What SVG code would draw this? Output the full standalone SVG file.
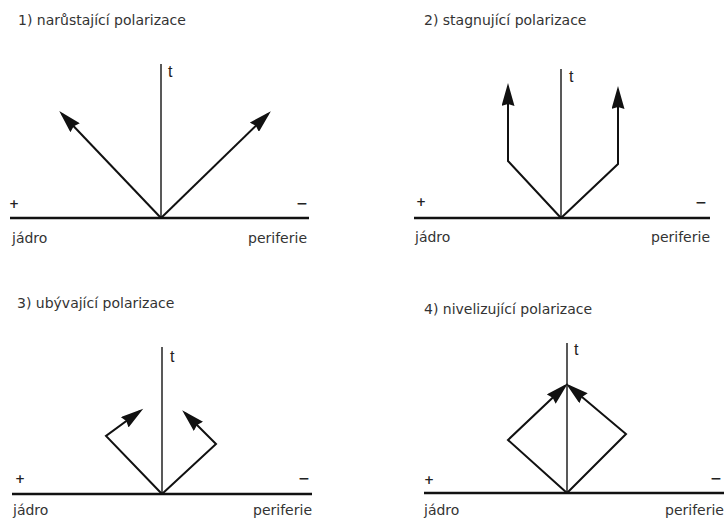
<svg xmlns="http://www.w3.org/2000/svg" width="724" height="519" viewBox="0 0 724 519">
<style>
.lbl{font-family:"DejaVu Sans",Verdana,sans-serif;font-size:14px;fill:#333}
.t{font-family:"Liberation Sans",Arial,sans-serif;font-size:16px;fill:#222}
.plus{font-family:"DejaVu Sans",sans-serif;font-size:12px;font-weight:bold;fill:#222;text-anchor:middle}
.sign{font-family:"DejaVu Sans",sans-serif;font-size:14px;font-weight:bold;fill:#222;text-anchor:middle}
.base{stroke:#111;stroke-width:2.5;fill:none}
.axis{stroke:#222;stroke-width:1.5;fill:none}
.arr{stroke:#111;stroke-width:2;fill:none;stroke-linejoin:miter;marker-end:url(#ah)}
</style>
<defs>
<marker id="ah" markerUnits="userSpaceOnUse" markerWidth="24" markerHeight="13" refX="19" refY="6.5" orient="auto">
<path d="M0,0 L23,6.5 L0,13 L2,6.5 z" fill="#111"/>
</marker>
</defs>
<rect width="724" height="519" fill="#fff"/>

<g id="panel1">
<text class="lbl" x="18" y="25">1) narůstající polarizace</text>
<line class="base" x1="10" y1="218" x2="309" y2="218"/>
<line class="axis" x1="161" y1="64" x2="161" y2="218"/>
<text class="t" x="168" y="77">t</text>
<text class="plus" x="14" y="208">+</text>
<text class="sign" x="302" y="208">−</text>
<text class="lbl" x="12" y="243">jádro</text>
<text class="lbl" x="307" y="243" text-anchor="end">periferie</text>
</g>

<g id="panel2">
<text class="lbl" x="424" y="25">2) stagnující polarizace</text>
<line class="base" x1="414" y1="218" x2="710" y2="218"/>
<line class="axis" x1="561" y1="69" x2="561" y2="218"/>
<text class="t" x="569" y="82">t</text>
<text class="plus" x="421" y="206">+</text>
<text class="sign" x="701" y="207">−</text>
<text class="lbl" x="415" y="242">jádro</text>
<text class="lbl" x="710" y="242" text-anchor="end">periferie</text>
</g>

<g id="panel3">
<text class="lbl" x="17" y="308">3) ubývající polarizace</text>
<line class="base" x1="12" y1="494" x2="312" y2="494"/>
<line class="axis" x1="162" y1="347" x2="162" y2="494"/>
<text class="t" x="170" y="362">t</text>
<text class="plus" x="20" y="483">+</text>
<text class="sign" x="304" y="483">−</text>
<text class="lbl" x="13" y="515">jádro</text>
<text class="lbl" x="312" y="515" text-anchor="end">periferie</text>
</g>

<g id="panel4">
<text class="lbl" x="424" y="314">4) nivelizující polarizace</text>
<line class="base" x1="424" y1="493" x2="724" y2="493"/>
<line class="axis" x1="567" y1="343" x2="567" y2="493"/>
<text class="t" x="574" y="355">t</text>
<text class="plus" x="429" y="484">+</text>
<text class="sign" x="716" y="483">−</text>
<text class="lbl" x="424" y="515">jádro</text>
<text class="lbl" x="665" y="515">periferie</text>
</g>

<g id="connectors">
<path class="arr" d="M161,218 L62,114"/>
<path class="arr" d="M161,218 L268,114"/>
<path class="arr" d="M561,218 L508,161 L508,87"/>
<path class="arr" d="M561,218 L618,164 L618,90"/>
<path class="arr" d="M162,494 L106,436 L140,411"/>
<path class="arr" d="M162,494 L216,444 L185,413"/>
<path class="arr" d="M567,493 L508,440 L565,386"/>
<path class="arr" d="M567,493 L626,434 L569,386"/>
</g>
</svg>
